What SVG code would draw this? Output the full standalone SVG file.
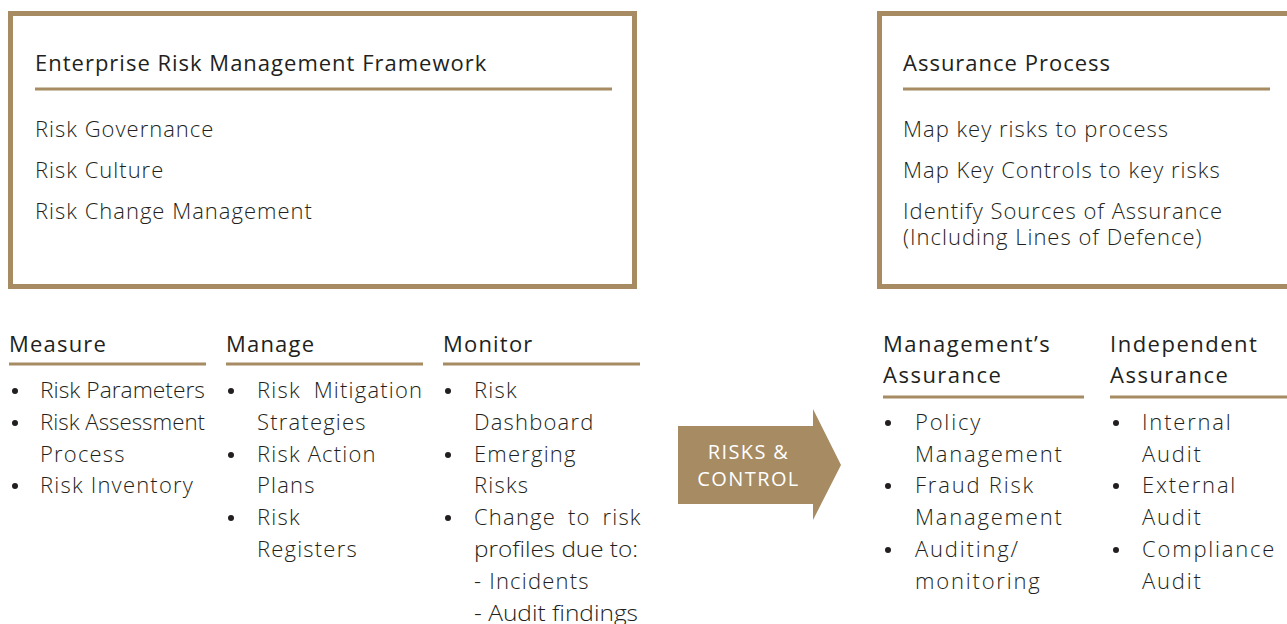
<svg xmlns="http://www.w3.org/2000/svg" width="1287" height="624" viewBox="0 0 1287 624">
<style>
  .frame { fill: #ffffff; stroke: #A68B63; stroke-width: 5; }
  .rule { stroke: #A68B63; stroke-width: 3; fill: none; }
  .t { font-family: "Open Sans", Lato, "Liberation Sans", sans-serif; fill: #231F20; font-weight: 300; font-size: 22px; }
  .h { font-weight: 400; }
  .top { letter-spacing: 1px; }
  .bl { letter-spacing: 1.2px; }
  .br { letter-spacing: 1.8px; }
  .brh { letter-spacing: 1.5px; }
  .dot { fill: #231F20; }
  .lbl { font-family: "Open Sans", Lato, "Liberation Sans", sans-serif; font-size: 20px; letter-spacing: 1.4px; fill: #ffffff; text-anchor: middle; }
</style>
<rect width="1287" height="624" fill="#ffffff"/>

<g id="erm-framework">
  <rect class="frame" x="10.5" y="13.5" width="624" height="273"/>
  <text class="t top h" x="35" y="71">Enterprise Risk Management Framework</text>
  <line class="rule" x1="35" y1="89" x2="612" y2="89"/>
  <text class="t top" x="35" y="137">Risk Governance</text>
  <text class="t top" x="35" y="178">Risk Culture</text>
  <text class="t top" x="35" y="219">Risk Change Management</text>
</g>

<g id="assurance-process">
  <rect class="frame" x="879.5" y="13.5" width="420" height="273"/>
  <text class="t top h" x="903" y="71">Assurance Process</text>
  <line class="rule" x1="903" y1="89" x2="1270" y2="89"/>
  <text class="t top" x="903" y="137">Map key risks to process</text>
  <text class="t top" x="903" y="178">Map Key Controls to key risks</text>
  <text class="t top" x="903" y="219">Identify Sources of Assurance</text>
  <text class="t top" x="903" y="245">(Including Lines of Defence)</text>
</g>

<g id="measure">
  <text class="t bl h" x="9" y="352">Measure</text>
  <line class="rule" x1="9" y1="364" x2="206" y2="364"/>
  <circle class="dot" cx="15" cy="391" r="3"/>
  <text class="t" x="40" y="398" textLength="165" lengthAdjust="spacingAndGlyphs">Risk Parameters</text>
  <circle class="dot" cx="15" cy="423" r="3"/>
  <text class="t" x="40" y="430" textLength="165" lengthAdjust="spacingAndGlyphs">Risk Assessment</text>
  <text class="t bl" x="40" y="462">Process</text>
  <circle class="dot" cx="15" cy="486" r="3"/>
  <text class="t bl" x="40" y="493">Risk Inventory</text>
</g>

<g id="manage">
  <text class="t bl h" x="226" y="352">Manage</text>
  <line class="rule" x1="226" y1="364" x2="423" y2="364"/>
  <circle class="dot" cx="231" cy="391" r="3"/>
  <text class="t bl" x="257" y="398" word-spacing="6">Risk Mitigation</text>
  <text class="t bl" x="257" y="430">Strategies</text>
  <circle class="dot" cx="231" cy="455" r="3"/>
  <text class="t bl" x="257" y="462">Risk Action</text>
  <text class="t bl" x="257" y="493">Plans</text>
  <circle class="dot" cx="231" cy="518" r="3"/>
  <text class="t bl" x="257" y="525">Risk</text>
  <text class="t bl" x="257" y="557">Registers</text>
</g>

<g id="monitor">
  <text class="t bl h" x="443" y="352">Monitor</text>
  <line class="rule" x1="443" y1="364" x2="640" y2="364"/>
  <circle class="dot" cx="448" cy="391" r="3"/>
  <text class="t bl" x="474" y="398">Risk</text>
  <text class="t bl" x="474" y="430">Dashboard</text>
  <circle class="dot" cx="448" cy="455" r="3"/>
  <text class="t bl" x="474" y="462">Emerging</text>
  <text class="t bl" x="474" y="493">Risks</text>
  <circle class="dot" cx="448" cy="518" r="3"/>
  <text class="t bl" x="474" y="525" word-spacing="5">Change to risk</text>
  <text class="t" x="474" y="557" textLength="164" lengthAdjust="spacingAndGlyphs">profiles due to:</text>
  <text class="t bl" x="474" y="589">- Incidents</text>
  <text class="t" x="474" y="621" textLength="164" lengthAdjust="spacingAndGlyphs">- Audit findings</text>
</g>

<g id="connectors">
  <path d="M678 426 H813 V409 L841 465 L813 520 V504 H678 Z" fill="#A68B63"/>
  <text class="lbl" x="748.5" y="459">RISKS &amp;</text>
  <text class="lbl" x="748.5" y="486">CONTROL</text>
</g>

<g id="managements-assurance">
  <text class="t brh h" x="883" y="352">Management’s</text>
  <text class="t brh h" x="883" y="383">Assurance</text>
  <line class="rule" x1="883" y1="397" x2="1084" y2="397"/>
  <circle class="dot" cx="888" cy="423" r="3"/>
  <text class="t br" x="915" y="430">Policy</text>
  <text class="t br" x="915" y="462">Management</text>
  <circle class="dot" cx="888" cy="486" r="3"/>
  <text class="t br" x="915" y="493">Fraud Risk</text>
  <text class="t br" x="915" y="525">Management</text>
  <circle class="dot" cx="888" cy="550" r="3"/>
  <text class="t br" x="915" y="557">Auditing/</text>
  <text class="t br" x="915" y="589">monitoring</text>
</g>

<g id="independent-assurance">
  <text class="t brh h" x="1110" y="352">Independent</text>
  <text class="t brh h" x="1110" y="383">Assurance</text>
  <line class="rule" x1="1110" y1="397" x2="1287" y2="397"/>
  <circle class="dot" cx="1116" cy="423" r="3"/>
  <text class="t br" x="1142" y="430">Internal</text>
  <text class="t br" x="1142" y="462">Audit</text>
  <circle class="dot" cx="1116" cy="486" r="3"/>
  <text class="t br" x="1142" y="493">External</text>
  <text class="t br" x="1142" y="525">Audit</text>
  <circle class="dot" cx="1116" cy="550" r="3"/>
  <text class="t br" x="1142" y="557">Compliance</text>
  <text class="t br" x="1142" y="589">Audit</text>
</g>
</svg>
